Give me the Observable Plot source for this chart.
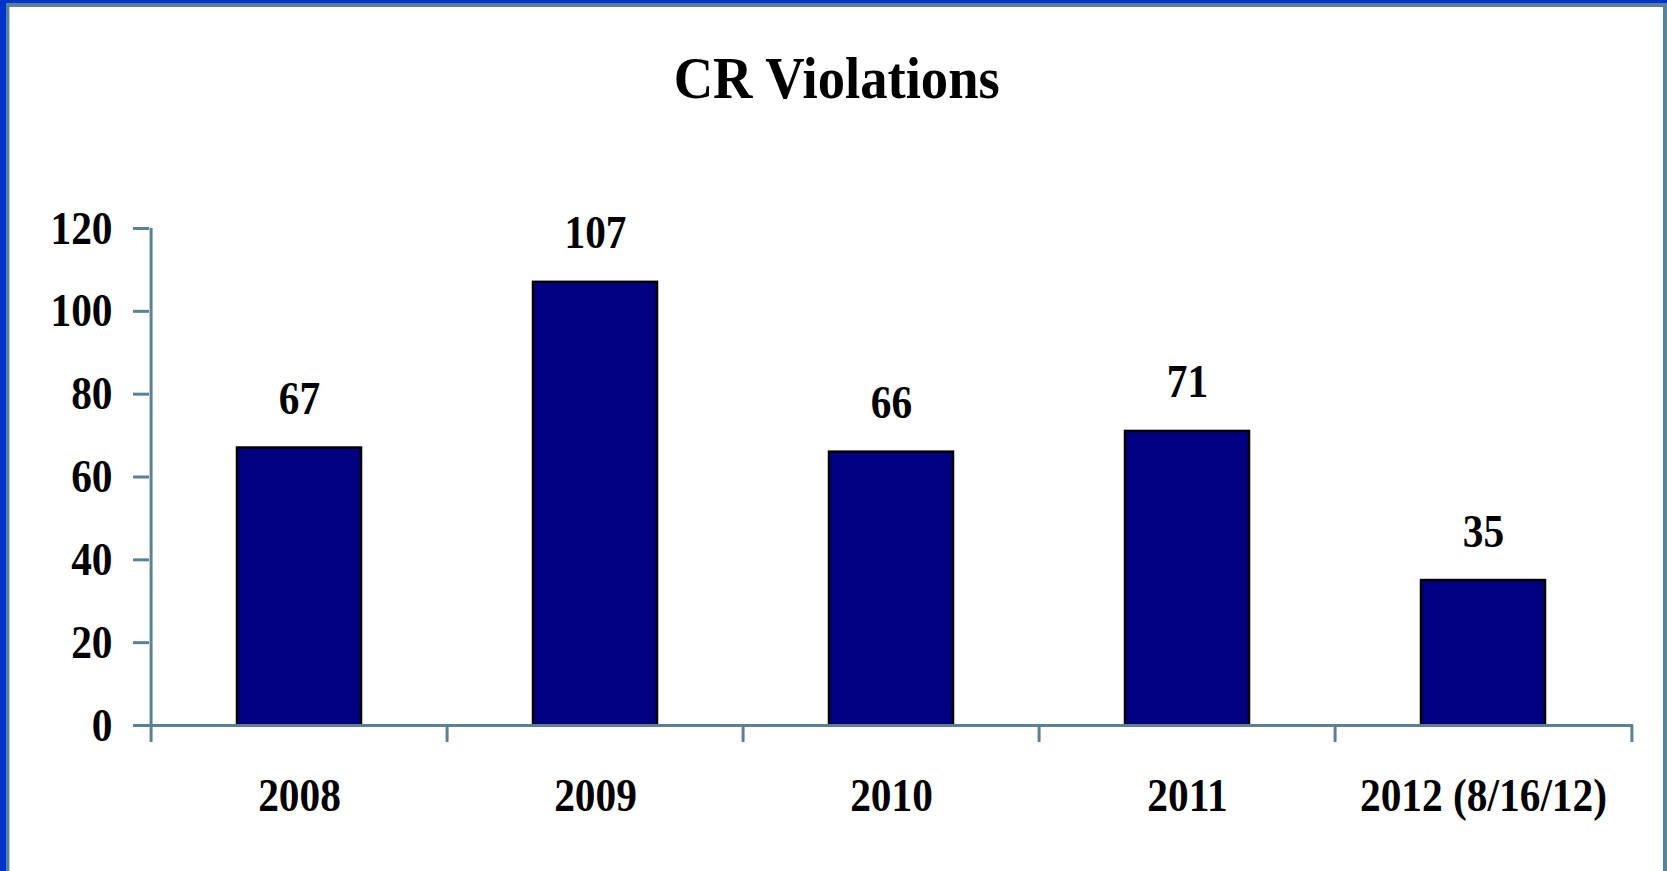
<!DOCTYPE html>
<html><head><meta charset="utf-8">
<script src="https://cdn.jsdelivr.net/npm/d3@7"></script>
<script src="https://cdn.jsdelivr.net/npm/@observablehq/plot@0.6"></script>
<style>
html,body{margin:0;padding:0;background:#fff;}
body{position:relative;width:1667px;height:871px;overflow:hidden;}
.b{position:absolute;z-index:5;}
#title{position:absolute;left:3px;width:1667px;top:48px;text-align:center;font-family:"Liberation Serif","Times New Roman",serif;font-weight:bold;font-size:60px;line-height:60px;color:#000;transform:scaleX(0.91);transform-origin:836px 0;}
#chart{position:absolute;left:0;top:140px;}
</style>
</head>
<body>
<div class="b" style="left:0;top:0;width:1667px;height:3px;background:#0033cc"></div>
<div class="b" style="left:0;top:0;width:6px;height:871px;background:#0033cc"></div>
<div class="b" style="left:6px;top:3px;width:1661px;height:4px;background:#5b8199"></div>
<div class="b" style="left:6px;top:3px;width:3px;height:868px;background:#5b8199"></div>
<div class="b" style="left:9px;top:7px;width:1px;height:864px;background:#b9cbd8"></div>
<div class="b" style="left:1663px;top:3px;width:4px;height:868px;background:#5b8199"></div>
<div id="title">CR Violations</div>
<div id="chart"></div>
<script>
const categories = ["2008", "2009", "2010", "2011", "2012 (8/16/12)"];
const values = [67, 107, 66, 71, 35];
const yTicks = [0, 20, 40, 60, 80, 100, 120];

const data = categories.map((c, i) => ({cat: c, value: values[i]}));

const W = 1667, H = 731;
const mL = 149, mR = 34, mT = 88, mB = 146;
const step = (W - mL - mR) / categories.length;
const grey = "#5b8199";
const font = "Liberation Serif";
const fs = 47;
const tickExt = -4.1; // tick length below zero, in y units

const plot = Plot.plot({
  width: W,
  height: H,
  marginLeft: mL,
  marginRight: mR,
  marginTop: mT,
  marginBottom: mB,
  style: {fontFamily: font, fontWeight: "bold", fontSize: fs + "px", background: "transparent", overflow: "visible"},
  x: {domain: categories, paddingInner: 0.58, paddingOuter: 0.29, label: null},
  y: {domain: [0, 120], label: null},
  marks: [
    Plot.barY(data, {x: "cat", y: "value", fill: "#000080", stroke: "#000", strokeWidth: 2.5}),
    Plot.text(data, {x: "cat", y: "value", text: d => String(d.value), lineAnchor: "bottom", dy: -34,
      fontSize: fs, fontWeight: "bold", fontFamily: font, fill: "#000"}),
    Plot.ruleY([0], {stroke: grey, strokeWidth: 3}),
    Plot.ruleX([categories[0]], {x: d => d, y1: 120, y2: tickExt, dx: -step / 2, stroke: grey, strokeWidth: 3}),
    Plot.ruleX(categories.slice(1), {x: d => d, y1: 0, y2: tickExt, dx: -step / 2, stroke: grey, strokeWidth: 3}),
    Plot.ruleX([categories[categories.length - 1]], {x: d => d, y1: 0, y2: tickExt, dx: step / 2, stroke: grey, strokeWidth: 3}),
    Plot.axisY(yTicks, {tickSize: 16, tickPadding: 21, stroke: grey, strokeWidth: 3, fill: "#000",
      fontSize: fs, fontWeight: "bold", fontFamily: font}),
    Plot.axisX({tickSize: 0, tickPadding: 52, fill: "#000", fontSize: fs, fontWeight: "bold", fontFamily: font})
  ]
});
document.getElementById("chart").appendChild(plot);
// condense glyphs horizontally to match the narrow Times rendering of the original
plot.querySelectorAll("text").forEach(t => {
  const L = t.getComputedTextLength();
  if (L > 0) {
    t.setAttribute("textLength", (L * 0.88).toFixed(2));
    t.setAttribute("lengthAdjust", "spacingAndGlyphs");
  }
});
</script>
</body></html>
